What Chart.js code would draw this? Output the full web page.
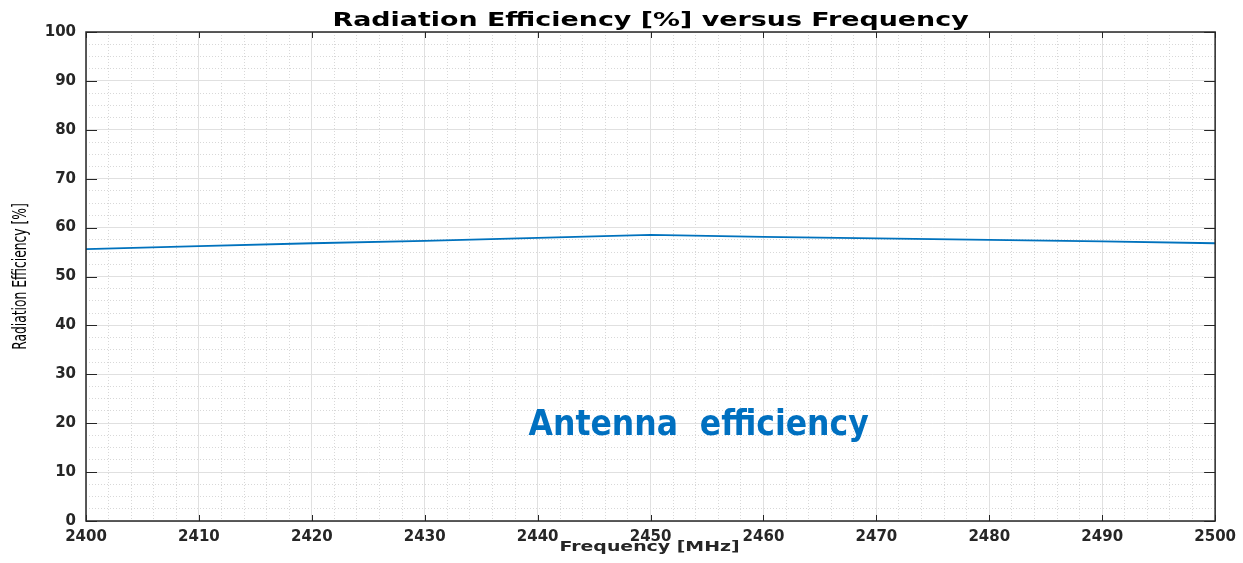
<!DOCTYPE html>
<html>
<head>
<meta charset="utf-8">
<script src="https://cdn.jsdelivr.net/npm/chart.js@4"></script>
<style>
  html, body { margin: 0; padding: 0; background: #fff; }
  #wrap { width: 1243px; height: 563px; position: relative; }
</style>
</head>
<body>
<div id="wrap"><canvas id="myChart"></canvas></div>
<script>
// Values
const freqs = [2400, 2410, 2420, 2430, 2440, 2450, 2460, 2470, 2480, 2490, 2500];
const efficiency = [55.6, 56.2, 56.8, 57.3, 57.9, 58.5, 58.1, 57.8, 57.5, 57.2, 56.8];
const xTicks = [2400, 2410, 2420, 2430, 2440, 2450, 2460, 2470, 2480, 2490, 2500];
const yTicks = [0, 10, 20, 30, 40, 50, 60, 70, 80, 90, 100];

const TITLE = 'Radiation Efficiency [%] versus Frequency';
const X_TITLE = 'Frequency [MHz]';
const Y_TITLE = 'Radiation Efficiency [%]';

const AXIS_COLOR = '#262626';
const LINE_COLOR = '#0072BD';
const TICK_FONT = { family: 'DejaVu Sans', weight: 'bold', size: 15 };

// annotation text, placed in data units (left edge, baseline)
const NOTE = { text: 'Antenna  efficiency', x: 2439.2, y: 17.6 };

// the original picture is stretched sideways, so titles are drawn stretched too
function stretchedText(ctx, text, x, y, font, sx, sy, rot) {
    ctx.save();
    ctx.translate(x, y);
    if (rot) ctx.rotate(rot);
    ctx.scale(sx, sy);
    ctx.font = font;
    ctx.textAlign = 'center';
    ctx.textBaseline = 'alphabetic';
    ctx.fillText(text, 0, 0);
    ctx.restore();
}

// MATLAB-like box with inward ticks on all four sides, titles and the note
const boxPlugin = {
    id: 'boxPlugin',
    afterDraw(chart) {
        const { ctx, chartArea: a, scales } = chart;
        const x = scales.x, y = scales.y;
        ctx.save();
        ctx.strokeStyle = AXIS_COLOR;
        ctx.lineWidth = 1;
        ctx.beginPath();
        xTicks.forEach(v => {
            const px = Math.round(x.getPixelForValue(v)) + 0.5;
            ctx.moveTo(px, a.bottom); ctx.lineTo(px, a.bottom - 6);
            ctx.moveTo(px, a.top); ctx.lineTo(px, a.top + 6);
        });
        yTicks.forEach(v => {
            const py = Math.round(y.getPixelForValue(v)) + 0.5;
            ctx.moveTo(a.left, py); ctx.lineTo(a.left + 11, py);
            ctx.moveTo(a.right, py); ctx.lineTo(a.right - 11, py);
        });
        ctx.stroke();
        ctx.lineWidth = 1.5;
        ctx.strokeRect(a.left, a.top, a.right - a.left, a.bottom - a.top);

        const cx = (a.left + a.right) / 2;
        ctx.fillStyle = '#000';
        stretchedText(ctx, TITLE, cx, 26, 'bold 20px "DejaVu Sans"', 1.345, 1, 0);
        ctx.fillStyle = AXIS_COLOR;
        stretchedText(ctx, X_TITLE, cx - 1, 551, 'bold 14px "DejaVu Sans"', 1.35, 1, 0);
        ctx.fillStyle = '#000';
        stretchedText(ctx, Y_TITLE, 26, (a.top + a.bottom) / 2, '19px "DejaVu Sans Condensed", "DejaVu Sans"', 0.72, 1, -Math.PI / 2);

        // note
        ctx.fillStyle = '#0070C0';
        ctx.font = 'bold 35px "DejaVu Sans Condensed", "DejaVu Sans"';
        ctx.textAlign = 'left';
        ctx.textBaseline = 'alphabetic';
        ctx.fillText(NOTE.text, x.getPixelForValue(NOTE.x), y.getPixelForValue(NOTE.y));
        ctx.restore();
    }
};

const minorColor = (c) => (c.tick && c.tick.value % 10 === 0) ? 'rgba(0,0,0,0)' : '#d8d8d8';

const ctx = document.getElementById('myChart').getContext('2d');
const myChart = new Chart(ctx, {
    type: 'line',
    data: {
        datasets: [{
            label: 'Radiation Efficiency',
            data: freqs.map((f, i) => ({ x: f, y: efficiency[i] })),
            borderColor: LINE_COLOR,
            borderWidth: 1.8,
            pointRadius: 0,
            tension: 0
        }]
    },
    options: {
        responsive: true,
        maintainAspectRatio: false,
        animation: false,
        layout: { padding: { left: 0, right: 24, top: 32, bottom: 0 } },
        plugins: {
            legend: { display: false },
            tooltip: { enabled: false },
            title: { display: false }
        },
        scales: {
            x2: {
                type: 'linear', position: 'top', min: 2400, max: 2500,
                ticks: { display: false, stepSize: 2 },
                grid: { color: minorColor, drawTicks: false, lineWidth: 1 },
                border: { display: false, dash: [1, 2] },
                afterFit(s) { s.height = 0; }
            },
            y2: {
                type: 'linear', position: 'right', min: 0, max: 100,
                ticks: { display: false, stepSize: 2.5 },
                grid: { color: minorColor, drawTicks: false, lineWidth: 1 },
                border: { display: false, dash: [1, 2] },
                afterFit(s) { s.width = 0; }
            },
            x: {
                type: 'linear', position: 'bottom', min: 2400, max: 2500,
                afterBuildTicks(s) { s.ticks = xTicks.map(v => ({ value: v })); },
                ticks: { color: AXIS_COLOR, font: TICK_FONT, padding: 7, autoSkip: false, maxRotation: 0,
                         callback: v => String(v) },
                grid: { color: '#e0e0e0', drawTicks: false },
                border: { display: false },
                afterFit(s) { s.height = 42; }
            },
            y: {
                type: 'linear', position: 'left', min: 0, max: 100,
                afterBuildTicks(s) { s.ticks = yTicks.map(v => ({ value: v })); },
                ticks: { color: AXIS_COLOR, font: TICK_FONT, padding: 10 },
                grid: { color: '#e0e0e0', drawTicks: false },
                border: { display: false },
                afterFit(s) { s.width = 86; }
            }
        }
    },
    plugins: [boxPlugin]
});
</script>
</body>
</html>
